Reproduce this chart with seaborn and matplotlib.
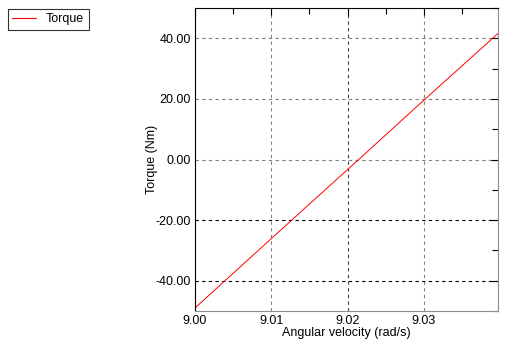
import matplotlib
matplotlib.use("Agg")
import matplotlib.pyplot as plt
import seaborn as sns
import pandas as pd
from matplotlib.ticker import MultipleLocator, FormatStrFormatter
from matplotlib.lines import Line2D

angular_velocity = [9.000, 9.010, 9.020, 9.030, 9.0397]
torque = [-49.0, -26.1, -3.3, 19.6, 41.6]
series_name = "Torque"

sns.set_theme(style="white")
plt.rcParams['font.family'] = ['Liberation Sans', 'DejaVu Sans']

df = pd.DataFrame({"w": angular_velocity, "t": torque, "s": series_name})

fig = plt.figure(figsize=(5.23, 3.45), dpi=100)
ax = fig.add_axes([195/523, 1-311/345, (498-195)/523, (311-8)/345])
sns.lineplot(data=df, x="w", y="t", hue="s", palette=["#ff0000"], linewidth=0.7, ax=ax, legend=False)

ax.set_xlim(9.000, 9.0397)
ax.set_ylim(-50, 50)
ax.xaxis.set_major_locator(MultipleLocator(0.01))
ax.xaxis.set_minor_locator(MultipleLocator(0.005))
ax.yaxis.set_major_locator(MultipleLocator(20))
ax.yaxis.set_minor_locator(MultipleLocator(10))
ax.xaxis.set_major_formatter(FormatStrFormatter('%.2f'))
ax.yaxis.set_major_formatter(FormatStrFormatter('%.2f'))
ax.tick_params(which='both', direction='in', top=True, right=True, labelsize=9, colors='black', pad=3)
ax.tick_params(which='major', length=5, width=0.8)
ax.tick_params(which='minor', length=4, width=0.8)
for lbl in ax.get_xticklabels() + ax.get_yticklabels():
    lbl.set_color('black')
ax.grid(True, which='major', linestyle=(0, (3, 3)), linewidth=0.8, color='#808080')
fig.canvas.draw()
for val, gl in zip(ax.get_yticks(), ax.get_ygridlines()):
    if val < -10:
        gl.set_color('black')
for val, gl in zip(ax.get_xticks(), ax.get_xgridlines()):
    if abs(val - 9.02) < 1e-6:
        gl.set_color('#404040')
for sp in ax.spines.values():
    sp.set_color('black')
    sp.set_linewidth(0.8)
ax.spines['right'].set_color('#909090')
ax.spines['bottom'].set_color('#909090')

ax.set_xlabel("Angular velocity (rad/s)", fontsize=9, color='black', labelpad=0)
ax.set_ylabel("Torque (Nm)", fontsize=9, color='black', labelpad=-2)

handle = Line2D([0, 1], [0, 1], color='#ff0000', linewidth=0.8)
leg = fig.legend(handles=[handle], labels=[series_name], loc='upper left',
                 bbox_to_anchor=(8/523, 1-9/345),
                 frameon=True, fancybox=False, edgecolor='black', fontsize=9,
                 handlelength=1.9, handletextpad=0.8, borderpad=0.35, borderaxespad=0)
leg.get_frame().set_linewidth(0.8)
for ln in leg.get_lines():
    ln.set_color('#ff0000')
    ln.set_linewidth(0.8)
for t in leg.get_texts():
    t.set_color('black')

fig.savefig("out.png", dpi=100)
